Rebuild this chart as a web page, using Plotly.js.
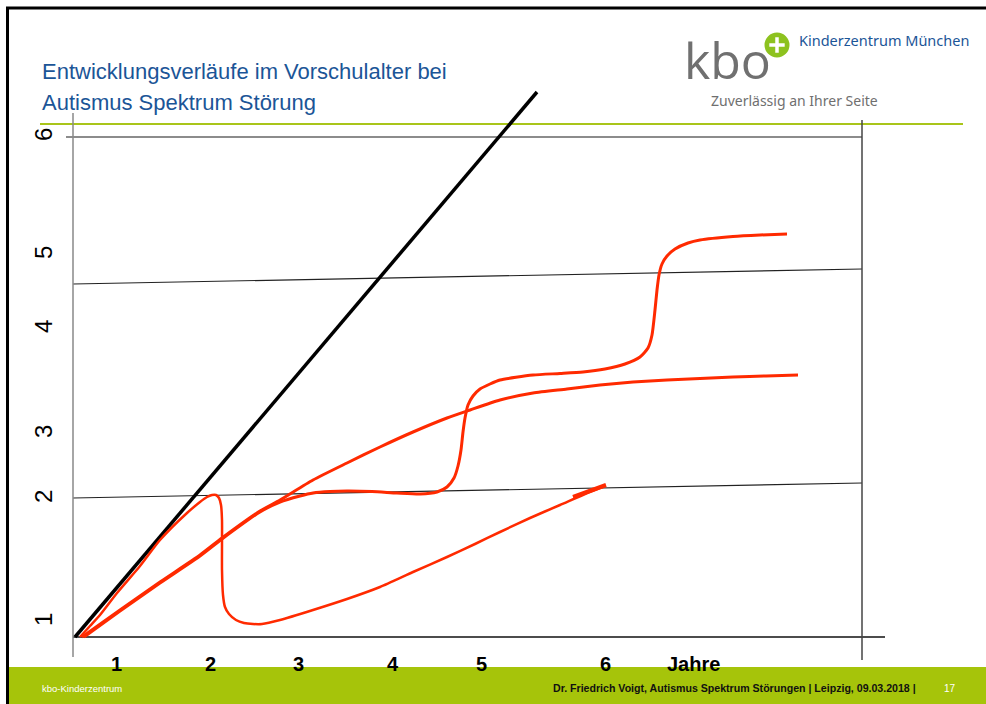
<!DOCTYPE html>
<html>
<head>
<meta charset="utf-8">
<script src="https://cdn.plot.ly/plotly-3.0.1.min.js"></script>
<style>html,body{margin:0;padding:0;background:#fff;}#chart{width:986px;height:704px;}</style>
</head>
<body>
<div id="chart"></div>
<script>
// Slide frame: x 0..986, y 0..704 (downwards)
// Black reference line (linear development)
const normX = [75, 537];
const normY = [637, 92];

// Curve A: rises, collapses (regression), then slow linear gain
const regressX = [80, 90, 100, 117, 140, 160, 187, 200, 207, 212, 216, 219, 221, 222, 222, 222, 223, 225, 229, 236, 244, 253, 262, 280, 313, 347, 380, 413, 447, 475, 500, 530, 560, 585, 605];
const regressY = [637, 626, 615, 593, 566, 540, 513, 502, 497, 495, 495, 498, 505, 520, 545, 570, 595, 607, 614, 620, 623, 624, 624, 620, 610, 599, 587, 572, 557, 544, 532, 518, 505, 494, 486];
const regressTipX = [573, 606];
const regressTipY = [497, 485];

// Curve B: steady decelerating gain
const steadyX = [82, 120, 160, 200, 222, 260, 280, 313, 347, 380, 413, 447, 470, 500, 533, 567, 600, 633, 667, 700, 733, 766, 798];
const steadyY = [637, 610, 582, 555, 538, 511, 500, 480, 463, 447, 432, 418, 410, 400, 393, 389, 385, 382, 380, 378.5, 377, 376, 375];

// Curve C: plateaus with sudden spurts
const spurtX = [84, 120, 160, 200, 222, 260, 280, 300, 313, 330, 347, 372, 397, 420, 437, 447, 454, 458, 461, 463, 465, 468, 473, 480, 490, 500, 533, 560, 583, 605, 625, 640, 648, 652, 655, 657, 659, 662, 667, 675, 688, 700, 733, 760, 787];
const spurtY = [637, 611, 583, 556, 539, 512, 502, 496, 493, 491.5, 491, 491.5, 493, 494, 492, 487, 478, 466, 450, 432, 418, 405, 396, 389, 384, 380, 375, 373.5, 372, 369, 364, 357, 348, 335, 310, 290, 275, 264, 256, 249, 243, 240, 236.5, 235, 234];

// Reference grid lines of the drawing
const gridTopX = [66, 862], gridTopY = [137, 137];
const grid5X = [73, 862], grid5Y = [284, 269];
const grid2X = [73, 862], grid2Y = [498, 483];
const baseX = [73, 885], baseY = [637, 637];
const leftAxisX = [73, 73], leftAxisY = [113, 657];
const rightAxisX = [862, 862], rightAxisY = [120, 660];

// Tick labels
const yTickLabels = ["6", "5", "4", "3", "2", "1"];
const yTickPos = [135, 253, 327, 432, 497, 620];
const xTickLabels = ["1", "2", "3", "4", "5", "6", "Jahre"];
const xTickPos = [116, 210, 298, 393, 481, 605, 693];

const RED = "#ff2a00";
function line(x, y, color, width) {
  return {x: x, y: y, mode: "lines", type: "scatter", hoverinfo: "skip",
          line: {color: color, width: width}};
}
function curve(x, y, color, width) {
  return {x: x, y: y, mode: "lines", type: "scatter", hoverinfo: "skip",
          line: {color: color, width: width, shape: "spline", smoothing: 0.6}};
}

const traces = [
  line([40, 963], [124, 124], "#a9c51a", 2),
  line(gridTopX, gridTopY, "#666666", 1.5),
  line(grid5X, grid5Y, "#222222", 1.2),
  line(grid2X, grid2Y, "#222222", 1.2),
  line(baseX, baseY, "#111111", 1.5),
  line(leftAxisX, leftAxisY, "#888888", 1.5),
  line(rightAxisX, rightAxisY, "#444444", 1.5),
  line(normX, normY, "#000000", 3.5),
  curve(steadyX, steadyY, RED, 3),
  curve(spurtX, spurtY, RED, 3),
  curve(regressX, regressY, RED, 2.5),
  line(regressTipX, regressTipY, RED, 4),
  {x: [777], y: [45], mode: "markers", type: "scatter", hoverinfo: "skip",
   marker: {size: 28, color: "#8dc21f", line: {color: "#ffffff", width: 3}}},
  {x: [777], y: [45], mode: "markers", type: "scatter", hoverinfo: "skip",
   marker: {size: 11, symbol: "cross-thin", color: "#ffffff", line: {color: "#ffffff", width: 3.5}}}
];

const annotations = [];
const TITLE_BLUE = "#1b5597";
annotations.push({x: 40, y: 71, text: "Entwicklungsverläufe im Vorschulalter bei", showarrow: false,
  xanchor: "left", yanchor: "middle", font: {family: "Liberation Sans, Arial", size: 22, color: TITLE_BLUE}});
annotations.push({x: 40, y: 102, text: "Autismus Spektrum Störung", showarrow: false,
  xanchor: "left", yanchor: "middle", font: {family: "Liberation Sans, Arial", size: 22, color: TITLE_BLUE}});
annotations.push({x: 727, y: 60, text: "kbo", showarrow: false, xanchor: "center", yanchor: "middle",
  font: {family: "Open Sans", size: 50, color: "#707070"}});
annotations.push({x: 797, y: 40, text: "Kinderzentrum München", showarrow: false, xanchor: "left", yanchor: "middle",
  font: {family: "Noto Sans", size: 14.5, color: TITLE_BLUE}});
annotations.push({x: 794, y: 100, text: "Zuverlässig an Ihrer Seite", showarrow: false, xanchor: "center", yanchor: "middle",
  font: {family: "Noto Sans", size: 14, color: "#6f6f6f"}});

yTickLabels.forEach((t, i) => annotations.push({x: 43, y: yTickPos[i], text: t, showarrow: false,
  textangle: -90, xanchor: "center", yanchor: "middle",
  font: {family: "Liberation Sans, Arial", size: 24, color: "#000"}}));
xTickLabels.forEach((t, i) => annotations.push({x: xTickPos[i], y: 664, text: "<b>" + t + "</b>", showarrow: false,
  xanchor: "center", yanchor: "middle",
  font: {family: "Liberation Sans, Arial", size: 20, color: "#000"}}));

annotations.push({x: 40, y: 688, text: "kbo-Kinderzentrum", showarrow: false, xanchor: "left", yanchor: "middle",
  font: {family: "Liberation Sans", size: 9.5, color: "#ffffff"}});
annotations.push({x: 918, y: 688, text: "<b>Dr. Friedrich Voigt, Autismus Spektrum Störungen | Leipzig, 09.03.2018 |</b>", showarrow: false,
  xanchor: "right", yanchor: "middle", font: {family: "Liberation Sans", size: 10.6, color: "#111"}});
annotations.push({x: 950, y: 688, text: "17", showarrow: false, xanchor: "center", yanchor: "middle",
  font: {family: "Liberation Sans", size: 10, color: "#ffffff"}});

const shapes = [
  {type: "rect", xref: "x", yref: "y", x0: 8, x1: 986, y0: 667, y1: 704, fillcolor: "#a6c40a", line: {width: 0}, layer: "below"},
  {type: "line", xref: "x", yref: "y", x0: 6, x1: 986, y0: 8, y1: 8, line: {color: "#000", width: 3}},
  {type: "line", xref: "x", yref: "y", x0: 7.5, x1: 7.5, y0: 7, y1: 704, line: {color: "#000", width: 3}}
];

const layout = {
  width: 986, height: 704,
  margin: {l: 0, r: 0, t: 0, b: 0},
  paper_bgcolor: "#ffffff", plot_bgcolor: "#ffffff",
  showlegend: false,
  xaxis: {range: [0, 986], visible: false, fixedrange: true},
  yaxis: {range: [704, 0], visible: false, fixedrange: true},
  annotations: annotations,
  shapes: shapes
};

Plotly.newPlot("chart", traces, layout, {displayModeBar: false, staticPlot: true});
</script>
</body>
</html>
